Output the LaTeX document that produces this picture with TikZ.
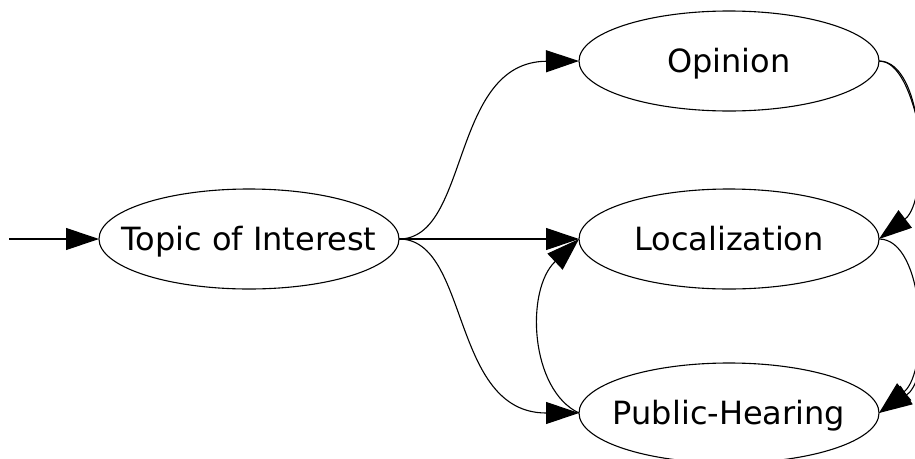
\documentclass[tikz,border=0pt]{standalone}
\usepackage{fontspec}
\setmainfont{DejaVu Sans}
\usetikzlibrary{arrows.meta,shapes.geometric}
\newcommand{\sttext}[1]{\raisebox{-11.6pt}{\makebox[0pt][c]{#1}}}
\begin{document}
\begin{tikzpicture}[x=1pt,y=-1pt,
  state/.style={ellipse,draw,line width=1.1pt,minimum width=300pt,minimum height=100pt,
    inner sep=0pt,outer sep=0pt,font=\fontsize{32}{32}\selectfont,text height=0pt,text depth=0pt},
  edge/.style={line width=1.1pt,-{Triangle[length=33pt,width=22pt]}}]
\useasboundingbox (0,0) rectangle (915,458);
\clip (0,0) rectangle (915,458);
\node[state] (topic) at (249,239) {\sttext{Topic of Interest}};
\node[state] (op) at (729,61) {\sttext{Opinion}};
\node[state] (loc) at (729,239) {\sttext{Localization}};
\node[state] (ph) at (729,413) {\sttext{Public-Hearing}};
\coordinate (in) at (9,239);
\draw[edge] (in) -- (topic.west);
\draw[edge] (topic.east) .. controls (470,239) and (450,62) .. (op.west);
\draw[edge] (topic.east) -- (loc.west);
\draw[edge] (topic.east) .. controls (470,239) and (450,413) .. (ph.west);
\draw[edge] (ph.west) .. controls (530,390) and (525,290) .. (loc.west);
\draw[edge] (op.east) .. controls (925,61) and (930,200) .. (loc.east);
\draw[edge] (op.east) .. controls (940,61) and (945,370) .. (ph.east);
\draw[edge] (loc.east) .. controls (925,239) and (930,370) .. (ph.east);
\end{tikzpicture}
\end{document}
